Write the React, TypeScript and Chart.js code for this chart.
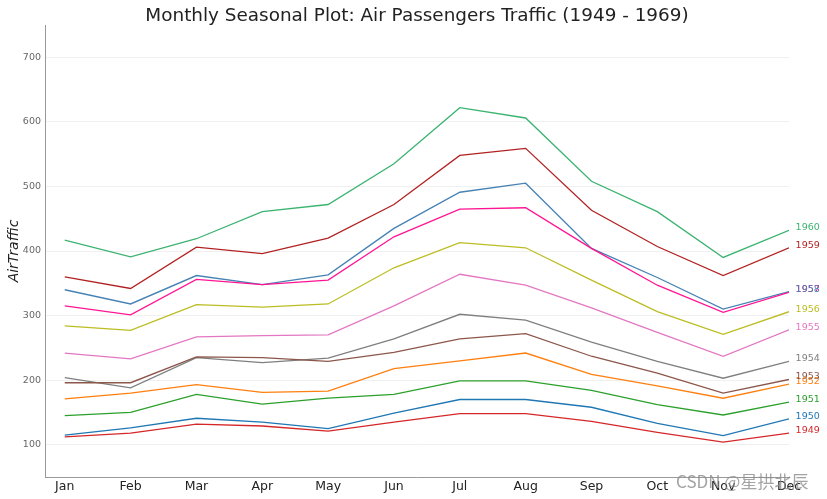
import { useEffect, useRef } from "react";
import { Chart, registerables } from "chart.js";

Chart.register(...registerables);

const months = ["Jan", "Feb", "Mar", "Apr", "May", "Jun", "Jul", "Aug", "Sep", "Oct", "Nov", "Dec"];
const years = ["1949", "1950", "1951", "1952", "1953", "1954", "1955", "1956", "1957", "1958", "1959", "1960"];
const yTickValues = [100, 200, 300, 400, 500, 600, 700];

const v1949 = [112, 118, 132, 129, 121, 135, 148, 148, 136, 119, 104, 118];
const v1950 = [115, 126, 141, 135, 125, 149, 170, 170, 158, 133, 114, 140];
const v1951 = [145, 150, 178, 163, 172, 178, 199, 199, 184, 162, 146, 166];
const v1952 = [171, 180, 193, 181, 183, 218, 230, 242, 209, 191, 172, 194];
const v1953 = [196, 196, 236, 235, 229, 243, 264, 272, 237, 211, 180, 201];
const v1954 = [204, 188, 235, 227, 234, 264, 302, 293, 259, 229, 203, 229];
const v1955 = [242, 233, 267, 269, 270, 315, 364, 347, 312, 274, 237, 278];
const v1956 = [284, 277, 317, 313, 318, 374, 413, 405, 355, 306, 271, 306];
const v1957 = [315, 301, 356, 348, 355, 422, 465, 467, 404, 347, 305, 336];
const v1958 = [340, 318, 362, 348, 363, 435, 491, 505, 404, 359, 310, 337];
const v1959 = [360, 342, 406, 396, 420, 472, 548, 559, 463, 407, 362, 405];
const v1960 = [417, 391, 419, 461, 472, 535, 622, 606, 508, 461, 390, 432];

const seriesValues = [v1949, v1950, v1951, v1952, v1953, v1954, v1955, v1956, v1957, v1958, v1959, v1960];
const colors = [
  "#d62728", "#1f77b4", "#2ca02c", "#ff7f0e", "#8c564b", "#7f7f7f",
  "#e377c2", "#bcbd22", "#ff1493", "#4682b4", "#b22222", "#3cb371",
];

const titleText = "Monthly Seasonal Plot: Air Passengers Traffic (1949 - 1969)";
const yLabelText = "AirTraffic";
const watermark = "CSDN @星拱北辰";

export default function App() {
  const ref = useRef<HTMLCanvasElement | null>(null);

  useEffect(() => {
    if (!ref.current) return;
    const overlay = {
      id: "overlay",
      afterDraw(chart: any) {
        const ctx = chart.ctx;
        const xs = chart.scales.x;
        const ys = chart.scales.y;
        const area = chart.chartArea;
        ctx.save();
        // year labels
        ctx.font = "9.5px 'DejaVu Sans'";
        ctx.textAlign = "left";
        ctx.textBaseline = "alphabetic";
        years.forEach((y, i) => {
          const vals = seriesValues[i];
          ctx.fillStyle = colors[i];
          ctx.fillText(y, xs.getPixelForValue(vals.length - 0.9), ys.getPixelForValue(vals[vals.length - 1]));
        });
        // title
        ctx.fillStyle = "#222";
        ctx.font = "18.4px 'DejaVu Sans'";
        ctx.textAlign = "center";
        ctx.fillText(titleText, (area.left + area.right) / 2, 21);
        // y label
        ctx.save();
        ctx.translate(18, (area.top + area.bottom) / 2);
        ctx.rotate(-Math.PI / 2);
        ctx.font = "italic 14px 'DejaVu Sans'";
        ctx.textAlign = "center";
        ctx.fillStyle = "#222";
        ctx.fillText(yLabelText, 0, 0);
        ctx.restore();
        // watermark
        ctx.font = "17px 'Noto Sans CJK SC'";
        ctx.textAlign = "left";
        ctx.fillStyle = "rgba(140,140,140,0.8)";
        ctx.fillText(watermark, 676, 488);
        ctx.restore();
      },
    };

    const chart = new Chart(ref.current, {
      type: "line",
      data: {
        datasets: years.map((y, i) => ({
          label: y,
          data: seriesValues[i].map((v, m) => ({ x: m, y: v })),
          borderColor: colors[i],
          backgroundColor: colors[i],
          borderWidth: 1.3,
          pointRadius: 0,
          tension: 0,
          fill: false,
        })),
      },
      options: {
        responsive: false,
        animation: false,
        layout: { padding: { top: 25, right: 38, left: 0, bottom: 0 } },
        plugins: { legend: { display: false }, tooltip: { enabled: false }, title: { display: false } },
        scales: {
          x: {
            type: "linear",
            min: -0.3,
            max: 11,
            afterBuildTicks: (s: any) => {
              s.ticks = months.map((_, i) => ({ value: i }));
            },
            afterFit: (s: any) => {
              s.height = 22;
            },
            ticks: {
              callback: (v: any) => months[v] ?? "",
              color: "#222",
              font: { family: "'DejaVu Sans'", size: 12.5 },
              padding: 2,
              maxRotation: 0,
              autoSkip: false,
            },
            grid: { display: false, drawTicks: false },
            border: { color: "#999", width: 1 },
          },
          y: {
            type: "linear",
            min: 50,
            max: 750,
            afterBuildTicks: (s: any) => {
              s.ticks = yTickValues.map((v) => ({ value: v }));
            },
            afterFit: (s: any) => {
              s.width = 45;
            },
            ticks: {
              color: "#666",
              font: { family: "'DejaVu Sans'", size: 9.5 },
              padding: 4,
            },
            grid: { color: "rgba(0,0,0,0.06)", drawTicks: false },
            border: { color: "#999", width: 1 },
          },
        },
      },
      plugins: [overlay],
    } as any);
    return () => chart.destroy();
  }, []);

  return (
    <div style={{ position: "absolute", left: 0, top: 0, width: 827, height: 499, background: "#fff" }}>
      <canvas ref={ref} width={827} height={499} />
    </div>
  );
}
